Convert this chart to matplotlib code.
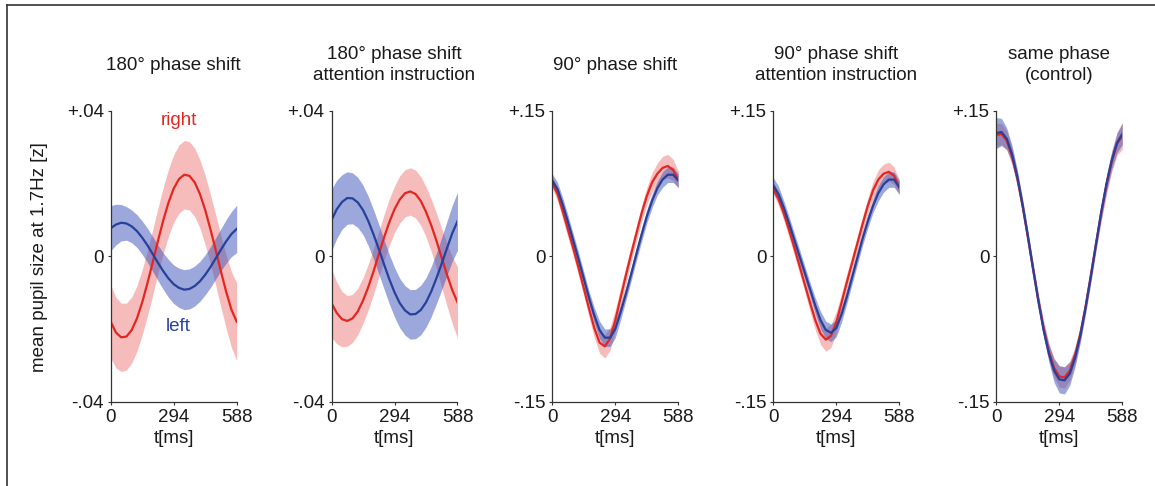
import matplotlib
matplotlib.use('Agg')
from matplotlib import pyplot as plt
from matplotlib.lines import Line2D

plt.rcParams['font.family'] = ['Liberation Sans', 'DejaVu Sans']
plt.rcParams['font.size'] = 13.5

# time axis [ms], one sample every 24.5 ms over one 1.7 Hz cycle
t_ms = [0, 24.5, 49, 73.5, 98, 122.5, 147, 171.5, 196, 220.5, 245, 269.5, 294,
        318.5, 343, 367.5, 392, 416.5, 441, 465.5, 490, 514.5, 539, 563.5, 588]

titles = ["180° phase shift",
          "180° phase shift\nattention instruction",
          "90° phase shift",
          "90° phase shift\nattention instruction",
          "same phase\n(control)"]
y_limits = [0.04, 0.04, 0.15, 0.15, 0.15]
ytick_labels = [["-.04", "0", "+.04"], ["-.04", "0", "+.04"],
                ["-.15", "0", "+.15"], ["-.15", "0", "+.15"], ["-.15", "0", "+.15"]]
xtick_values = [0, 294, 588]

# mean pupil response (right = red, left = blue) and half width of the shaded band
right_180 = [-0.0180, -0.0210, -0.0223, -0.0221, -0.0203, -0.0171, -0.0127, -0.0074, -0.0017,
             0.0042, 0.0098, 0.0147, 0.0186, 0.0212, 0.0224, 0.0221, 0.0203, 0.0171, 0.0127,
             0.0074, 0.0017, -0.0042, -0.0098, -0.0147, -0.0180]
right_180_err = [0.0100, 0.0097, 0.0094, 0.0092, 0.0091, 0.0090, 0.0090, 0.0090, 0.0090, 0.0090,
                 0.0091, 0.0092, 0.0093, 0.0094, 0.0094, 0.0094, 0.0094, 0.0094, 0.0095, 0.0096,
                 0.0097, 0.0099, 0.0101, 0.0104, 0.0107]
left_180 = [0.0077, 0.0087, 0.0092, 0.0090, 0.0082, 0.0069, 0.0051, 0.0030, 0.0006, -0.0018,
            -0.0041, -0.0061, -0.0077, -0.0087, -0.0092, -0.0090, -0.0082, -0.0069, -0.0051,
            -0.0030, -0.0006, 0.0018, 0.0041, 0.0061, 0.0075]
left_180_err = [0.0062, 0.0056, 0.0050, 0.0046, 0.0045, 0.0045, 0.0046, 0.0047, 0.0048, 0.0049,
                0.0050, 0.0052, 0.0053, 0.0054, 0.0055, 0.0055, 0.0055, 0.0055, 0.0055, 0.0056,
                0.0057, 0.0058, 0.0060, 0.0062, 0.0065]

right_180_att = [-0.0129, -0.0156, -0.0173, -0.0178, -0.0171, -0.0152, -0.0122, -0.0085, -0.0042,
                 0.0005, 0.0051, 0.0093, 0.0129, 0.0156, 0.0173, 0.0178, 0.0171, 0.0152, 0.0122,
                 0.0085, 0.0042, -0.0005, -0.0051, -0.0093, -0.0127]
right_180_att_err = [0.0094, 0.0085, 0.0076, 0.0070, 0.0066, 0.0064, 0.0063, 0.0063, 0.0063,
                     0.0063, 0.0063, 0.0064, 0.0064, 0.0065, 0.0065, 0.0065, 0.0066, 0.0067,
                     0.0069, 0.0072, 0.0076, 0.0081, 0.0086, 0.0092, 0.0098]
left_180_att = [0.0099, 0.0129, 0.0149, 0.0160, 0.0159, 0.0148, 0.0127, 0.0097, 0.0060, 0.0020,
                -0.0022, -0.0063, -0.0099, -0.0129, -0.0149, -0.0160, -0.0159, -0.0148, -0.0127,
                -0.0097, -0.0060, -0.0020, 0.0022, 0.0063, 0.0096]
left_180_att_err = [0.0085, 0.0080, 0.0075, 0.0072, 0.0070, 0.0069, 0.0068, 0.0068, 0.0068,
                    0.0068, 0.0068, 0.0068, 0.0068, 0.0068, 0.0068, 0.0068, 0.0068, 0.0068,
                    0.0068, 0.0069, 0.0070, 0.0072, 0.0074, 0.0077, 0.0080]

right_90 = [0.076, 0.064, 0.046, 0.027, 0.008, -0.012, -0.033, -0.054, -0.074, -0.089, -0.093,
            -0.085, -0.066, -0.043, -0.020, 0.002, 0.023, 0.044, 0.062, 0.076, 0.085, 0.091,
            0.093, 0.089, 0.079]
right_90_err = [0.006, 0.007, 0.008, 0.008, 0.008, 0.008, 0.008, 0.009, 0.010, 0.011, 0.012,
                0.012, 0.011, 0.010, 0.009, 0.008, 0.008, 0.008, 0.009, 0.010, 0.011, 0.012,
                0.012, 0.011, 0.009]
left_90 = [0.078, 0.069, 0.053, 0.035, 0.016, -0.003, -0.023, -0.043, -0.061, -0.076, -0.084,
           -0.084, -0.075, -0.058, -0.039, -0.019, 0.002, 0.022, 0.041, 0.057, 0.070, 0.079,
           0.084, 0.084, 0.078]
left_90_err = [0.007, 0.007, 0.007, 0.007, 0.007, 0.007, 0.007, 0.007, 0.008, 0.009, 0.009,
               0.009, 0.009, 0.008, 0.007, 0.007, 0.007, 0.007, 0.007, 0.007, 0.007, 0.008,
               0.008, 0.008, 0.007]

right_90_att = [0.070, 0.059, 0.044, 0.027, 0.009, -0.010, -0.029, -0.048, -0.066, -0.080,
                -0.086, -0.082, -0.068, -0.048, -0.027, -0.007, 0.013, 0.033, 0.052, 0.068,
                0.079, 0.085, 0.087, 0.083, 0.071]
right_90_att_err = [0.006, 0.007, 0.007, 0.008, 0.008, 0.008, 0.008, 0.009, 0.010, 0.011, 0.012,
                    0.012, 0.011, 0.010, 0.009, 0.008, 0.008, 0.008, 0.008, 0.009, 0.010, 0.010,
                    0.010, 0.009, 0.008]
left_90_att = [0.073, 0.064, 0.050, 0.034, 0.017, 0.000, -0.017, -0.034, -0.051, -0.066, -0.076,
               -0.079, -0.074, -0.060, -0.042, -0.022, -0.002, 0.018, 0.036, 0.052, 0.065,
               0.074, 0.079, 0.079, 0.071]
left_90_att_err = [0.008, 0.008, 0.007, 0.007, 0.007, 0.007, 0.007, 0.007, 0.008, 0.009, 0.009,
                   0.009, 0.009, 0.008, 0.007, 0.007, 0.007, 0.007, 0.007, 0.007, 0.008, 0.008,
                   0.008, 0.008, 0.007]

right_same = [0.125, 0.126, 0.119, 0.103, 0.080, 0.052, 0.020, -0.013, -0.045, -0.074, -0.098,
              -0.115, -0.124, -0.125, -0.118, -0.102, -0.080, -0.052, -0.020, 0.013, 0.045,
              0.074, 0.098, 0.116, 0.124]
right_same_err = [0.012, 0.011, 0.010, 0.009, 0.008, 0.008, 0.007, 0.007, 0.007, 0.008, 0.009,
                  0.010, 0.011, 0.011, 0.010, 0.009, 0.008, 0.008, 0.008, 0.008, 0.009, 0.010,
                  0.011, 0.012, 0.014]
left_same = [0.127, 0.128, 0.121, 0.105, 0.082, 0.053, 0.021, -0.013, -0.046, -0.076, -0.100,
             -0.118, -0.127, -0.128, -0.121, -0.105, -0.082, -0.053, -0.021, 0.013, 0.046,
             0.075, 0.099, 0.117, 0.126]
left_same_err = [0.016, 0.014, 0.011, 0.009, 0.007, 0.006, 0.006, 0.006, 0.006, 0.007, 0.009,
                 0.012, 0.014, 0.014, 0.012, 0.009, 0.007, 0.006, 0.006, 0.006, 0.007, 0.008,
                 0.009, 0.010, 0.011]

right_all = [right_180, right_180_att, right_90, right_90_att, right_same]
right_err_all = [right_180_err, right_180_att_err, right_90_err, right_90_att_err, right_same_err]
left_all = [left_180, left_180_att, left_90, left_90_att, left_same]
left_err_all = [left_180_err, left_180_att_err, left_90_err, left_90_att_err, left_same_err]

RED = '#e3261f'
BLUE = '#27409a'
RED_BAND = '#ef7b7b'
BLUE_BAND = '#3a52b8'

W, H = 1155, 486
fig = plt.figure(figsize=(W / 100, H / 100), dpi=100)

# panel positions in pixels (left edge); all share the same size
lefts_px = [110.7, 331.5, 552.3, 773.3, 996.3]
ax_w, ax_h = 126, 291
ax_bottom = 486 - 401.7

for i in range(5):
    ax = fig.add_axes([lefts_px[i] / W, ax_bottom / H, ax_w / W, ax_h / H])
    lo_r = [m - e for m, e in zip(right_all[i], right_err_all[i])]
    hi_r = [m + e for m, e in zip(right_all[i], right_err_all[i])]
    lo_l = [m - e for m, e in zip(left_all[i], left_err_all[i])]
    hi_l = [m + e for m, e in zip(left_all[i], left_err_all[i])]
    ax.fill_between(t_ms, lo_r, hi_r, color=RED_BAND, alpha=0.5, lw=0)
    ax.fill_between(t_ms, lo_l, hi_l, color=BLUE_BAND, alpha=0.5, lw=0)
    ax.plot(t_ms, right_all[i], color=RED, lw=1.6)
    ax.plot(t_ms, left_all[i], color=BLUE, lw=1.6)

    lim = y_limits[i]
    ax.set_xlim(0, 588)
    ax.set_ylim(-lim, lim)
    ax.set_xticks(xtick_values)
    ax.set_xticklabels([str(v) for v in xtick_values])
    ax.set_yticks([-lim, 0, lim])
    ax.set_yticklabels(ytick_labels[i])
    ax.tick_params(length=2.5, width=0.8, pad=2.5, color='#333333', labelcolor='#1a1a1a')
    for s in ['top', 'right']:
        ax.spines[s].set_visible(False)
    for s in ['left', 'bottom']:
        ax.spines[s].set_color('#333333')
        ax.spines[s].set_linewidth(0.9)
    ax.set_xlabel("t[ms]", labelpad=3, color='#1a1a1a')
    ax.text(0.5, 1.157, titles[i], transform=ax.transAxes, ha='center', va='center',
            linespacing=1.3, color='#1a1a1a')

    if i == 0:
        ax.text(317, 0.0372, "right", color=RED, ha='center', va='center')
        ax.text(317, -0.0192, "left", color=BLUE, ha='center', va='center')

fig.text(40 / W, 1 - 257 / H, "mean pupil size at 1.7Hz [z]", rotation=90,
         ha='center', va='center', color='#1a1a1a')

# frame around the figure (only top and left edges are visible)
fig.add_artist(Line2D([7 / W, 1], [1 - 5 / H, 1 - 5 / H], color='#333333', lw=1.2))
fig.add_artist(Line2D([7 / W, 7 / W], [0, 1 - 5 / H], color='#333333', lw=1.2))

fig.savefig('out.png', dpi=100)
